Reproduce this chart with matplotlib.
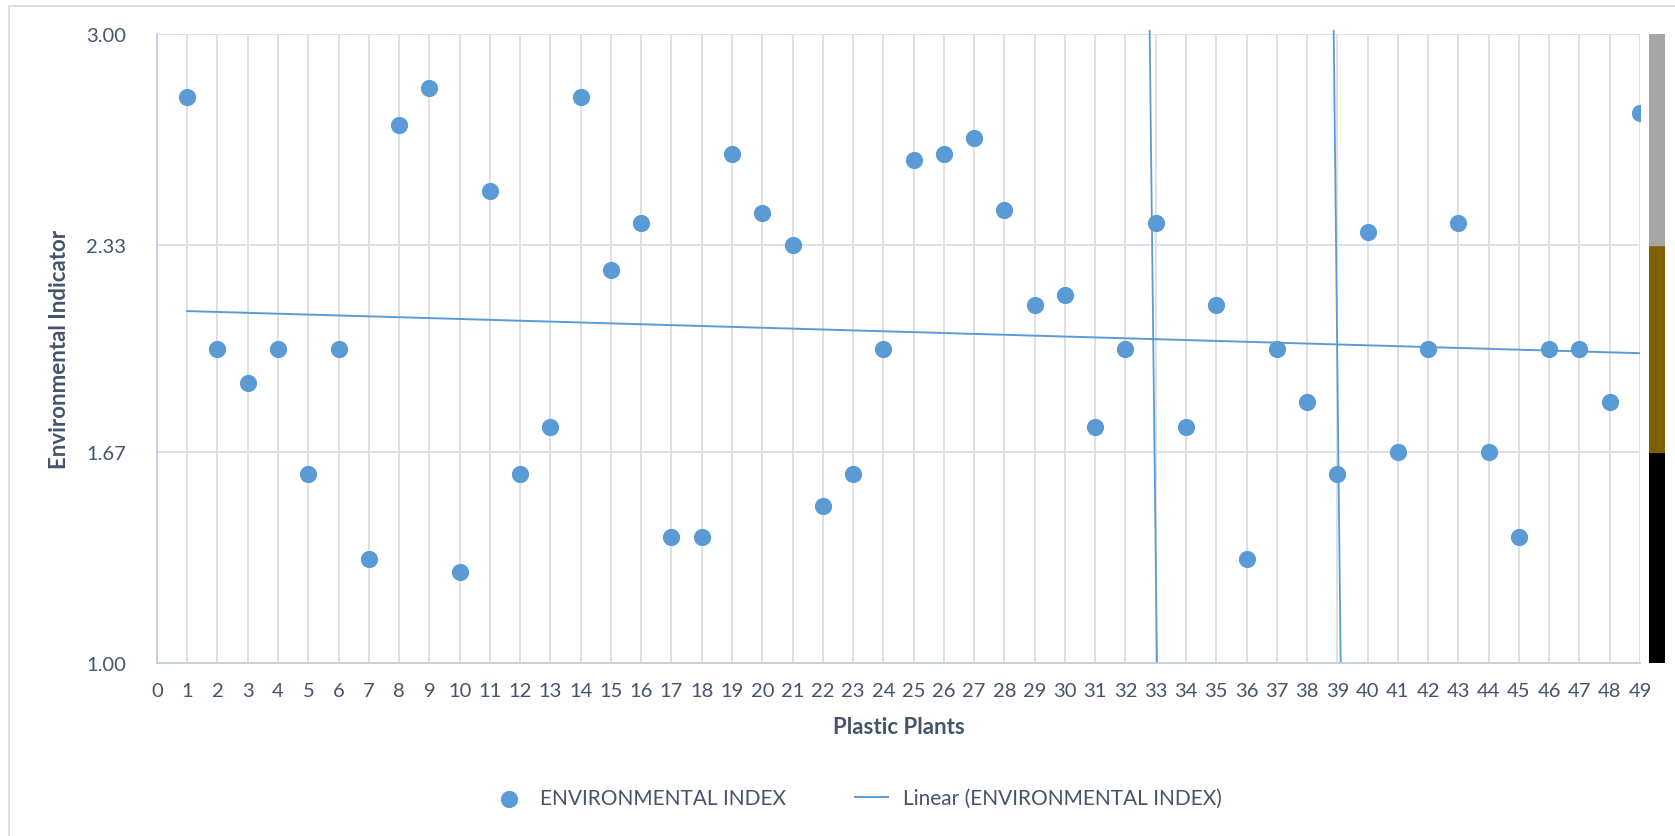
import numpy as np
import matplotlib.pyplot as plt
from matplotlib.patches import Rectangle

# Daten: Umweltindex je Kunststoffwerk
plants = list(range(1, 50))
env_index = [2.80, 2.00, 1.89, 2.00, 1.60, 2.00, 1.33, 2.71, 2.83, 1.29,
             2.50, 1.60, 1.75, 2.80, 2.25, 2.40, 1.40, 1.40, 2.62, 2.43,
             2.33, 1.50, 1.60, 2.00, 2.60, 2.62, 2.67, 2.44, 2.14, 2.17,
             1.75, 2.00, 2.40, 1.75, 2.14, 1.33, 2.00, 1.83, 1.60, 2.37,
             1.67, 2.00, 2.40, 1.67, 1.40, 2.00, 2.00, 1.83, 2.75]

# zwei fast senkrechte Trendlinien-Artefakte (x oben, x unten)
stray_x = [[32.80, 33.04], [38.88, 39.11]]
stray_y = [3.01, 1.00]

y_ticks = [1.00, 1.67, 2.33, 3.00]
band_edges = [1.00, 1.67, 2.33, 3.00]
band_colors = ['#000000', '#7F6000', '#A5A5A5']

blue = '#5B9BD5'
text_col = '#44546A'
grid_col = '#D9DEE7'

plt.rcParams['font.family'] = ['Lato', 'DejaVu Sans']

fig = plt.figure(figsize=(16.75, 8.37), dpi=100)
ax = fig.add_axes([0.0937, 0.2067, 0.9791 - 0.0937, 0.958 - 0.2067])

# Rahmen um das gesamte Diagramm (unten offen)
fig.patches.append(Rectangle((9 / 1675, -0.05), 1.2, 1.05 - 7 / 837,
                             transform=fig.transFigure, fill=False,
                             edgecolor='#D9D9D9', linewidth=1.2))

ax.scatter(plants, env_index, s=130, color=blue, zorder=3,
           label='ENVIRONMENTAL INDEX')

# lineare Trendlinie
k, d = np.polyfit(plants, env_index, 1)
xs = np.array([plants[0], plants[-1]])
ax.plot(xs, k * xs + d, color=blue, linewidth=1.4, zorder=2,
        label='Linear (ENVIRONMENTAL INDEX)')

for sx in stray_x:
    ax.plot(sx, stray_y, color=blue, linewidth=1.3, zorder=2, clip_on=False)

ax.set_xlim(0, 49)
ax.set_ylim(1.0, 3.0)
ax.set_xticks(range(0, 50))
ax.set_yticks(y_ticks)
ax.set_yticklabels([f'{v:.2f}' for v in y_ticks])
ax.grid(True, color=grid_col, linewidth=1.3)
ax.set_axisbelow(True)

for s in ['top', 'right']:
    ax.spines[s].set_visible(False)
ax.spines['left'].set_color('#C5CFDD')
ax.spines['bottom'].set_color('#C5CFDD')
ax.spines['left'].set_linewidth(1.3)
ax.spines['bottom'].set_linewidth(1.3)
ax.tick_params(length=0, labelsize=14.5, colors=text_col, pad=14)
ax.tick_params(axis='y', pad=22)

ax.set_xlabel('Plastic Plants', fontsize=16, fontweight='bold',
              color=text_col, labelpad=12)
ax.set_ylabel('Environmental Indicator', fontsize=16, fontweight='bold',
              color=text_col, labelpad=12)

leg = ax.legend(loc='center', bbox_to_anchor=(0.472, -0.215), ncol=2,
                frameon=False, fontsize=15, handlelength=1.6,
                columnspacing=3.3, handletextpad=0.7)
for t in leg.get_texts():
    t.set_color(text_col)

# Farbskala rechts
cax = fig.add_axes([1649 / 1675, 0.2067, 16 / 1675, 0.958 - 0.2067])
for i in range(3):
    cax.axhspan(band_edges[i], band_edges[i + 1], color=band_colors[i])
cax.set_ylim(1.0, 3.0)
cax.axis('off')

plt.savefig('out.png', dpi=100)
